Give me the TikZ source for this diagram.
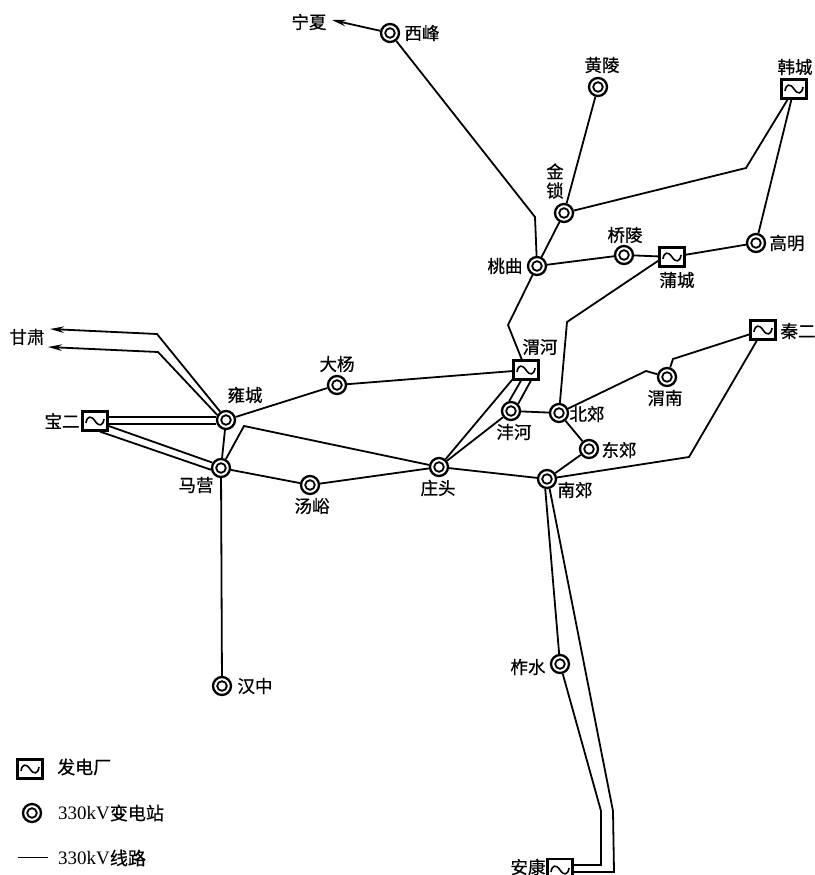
\documentclass[tikz,border=0pt]{standalone}
\usepackage{fontspec}
\setmainfont{Liberation Serif}
\newfontfamily\cjk[FakeBold=0.6]{Noto Sans CJK SC}
\usetikzlibrary{arrows.meta}
\tikzset{
  x=1pt,y=-1pt,
  line/.style={line width=1.8pt,line join=miter},
  sub/.style={circle,draw,line width=2.3pt,minimum size=18pt,inner sep=0pt,fill=white,
    path picture={\draw[line width=1.8pt] (path picture bounding box.center) circle (4.8pt);}},
  plant/.style={rectangle,draw,line width=2.2pt,minimum width=25pt,minimum height=19pt,inner sep=0pt,fill=white,
    path picture={\draw[line width=1.6pt] ([shift={(-9pt,-2pt)}]path picture bounding box.center)
      .. controls +(1pt,7pt) and +(-4pt,6pt) .. (path picture bounding box.center)
      .. controls +(4pt,-6pt) and +(-1pt,-7pt) .. ([shift={(9pt,2pt)}]path picture bounding box.center);}},
  lab/.style={font=\cjk\fontsize{17.5}{18}\selectfont,inner sep=0pt},
  leg/.style={font=\fontsize{19}{19}\selectfont,inner sep=0pt,anchor=west},
  arr/.style={line,-{Stealth[length=14pt,width=6.5pt]}}
}
\begin{document}
\begin{tikzpicture}
\useasboundingbox (0,0) rectangle (814,875);
% stations
\node[sub] (xf) at (390,33) {};
\node[sub] (hl) at (598,87) {};
\node[sub] (js) at (564,213) {};
\node[sub] (tq) at (537,266) {};
\node[sub] (ql) at (624,255) {};
\node[sub] (gm) at (756,243) {};
\node[sub] (wn) at (667,377) {};
\node[sub] (bj) at (559,413) {};
\node[sub] (fh) at (511,411) {};
\node[sub] (dj) at (589,449) {};
\node[sub] (nj) at (547,479) {};
\node[sub] (zt) at (439,467) {};
\node[sub] (dy) at (337,385) {};
\node[sub] (yc) at (226,420) {};
\node[sub] (my) at (221,468) {};
\node[sub] (ty) at (310,485) {};
\node[sub] (hz) at (222,686) {};
\node[sub] (zs) at (560,664) {};
% plants
\node[plant] (hc) at (794,89) {};
\node[plant] (pc) at (672,257) {};
\node[plant] (wh) at (526,370) {};
\node[plant] (qe) at (763,330) {};
\node[plant] (be) at (95,421) {};
\node[plant,minimum height=22pt] (ak) at (560,870) {};
% labels
\node[lab] (lnx) at (309,22) {宁夏};
\node[lab] (lxf) at (422,33) {西峰};
\node[lab] (lhl) at (602,65) {黄陵};
\node[lab] (lhc) at (795,67) {韩城};
\node[lab,align=center] (ljs) at (555,181) {金\\[1pt]锁};
\node[lab] (ltq) at (505,266) {桃曲};
\node[lab] (lql) at (625,235) {桥陵};
\node[lab] (lpc) at (677,280) {蒲城};
\node[lab] (lgm) at (787,243) {高明};
\node[lab] (lwh) at (540,347) {渭河};
\node[lab] (lqe) at (798,331) {秦二};
\node[lab] (lwn) at (665,398) {渭南};
\node[lab] (lbj) at (587,414) {北郊};
\node[lab] (lfh) at (514,432) {沣河};
\node[lab] (ldj) at (619,450) {东郊};
\node[lab] (lnj) at (575,490) {南郊};
\node[lab] (lzt) at (438,488) {庄头};
\node[lab] (ldy) at (337,364) {大杨};
\node[lab] (lyc) at (245,395) {雍城};
\node[lab] (lmy) at (196,485) {马营};
\node[lab] (lty) at (312,506) {汤峪};
\node[lab] (lbe) at (62,421) {宝二};
\node[lab] (lhz) at (255,686) {汉中};
\node[lab] (lzs) at (528,667) {柞水};
\node[lab] (lak) at (528,867) {安康};
\node[lab] (lgs) at (27,337) {甘肃};
% free ends and bends
\coordinate (nxend) at (332,20);
\coordinate (gs1) at (50,329);
\coordinate (gs2) at (48,347);
\coordinate (gs1b) at (157,334);
\coordinate (gs2b) at (158,352);
\coordinate (ztb) at (244,426);
\coordinate (whb) at (508,325);
\coordinate (xfb) at (535,217);
\coordinate (hcb) at (746,168);
\coordinate (pcb) at (567,322);
\coordinate (wnb) at (646,371);
\coordinate (wnc) at (673,359);
\coordinate (qeb) at (689,457);
\coordinate (ak1) at (601,811);
\coordinate (ak2) at (613,811);
\coordinate (ak1b) at (601,865);
\coordinate (ak2b) at (614,872);
\coordinate (nj2) at (599,740);
% connectors
\draw[arr] (yc.125) -- (gs1b) -- (gs1);
\draw[arr] (yc.150) -- (gs2b) -- (gs2);
\draw[arr] (xf) -- (nxend);
\draw[line] (be.east |- 0,417) -- (yc.west |- 0,417);
\draw[line] (be.east |- 0,424) -- (yc.west |- 0,424);
\draw[line] (be.-20) -- (my.148);
\draw[line] (be.-65) -- (my.190);
\draw[line] (yc) -- (my);
\draw[line] (yc) -- (dy);
\draw[line] (dy) -- (wh);
\draw[line] (my) -- (ztb) -- (zt);
\draw[line] (my) -- (ty);
\draw[line] (ty) -- (zt);
\draw[line] (my) -- (hz);
\draw[line] (zt) -- (nj);
\draw[line] (zt) -- (wh.-145);
\draw[line] (zt) -- (fh);
\draw[line] (fh.100) -- (wh.-115);
\draw[line] (fh.45) -- (wh.-65);
\draw[line] (fh) -- (bj);
\draw[line] (bj) -- (dj);
\draw[line] (dj) -- (nj);
\draw[line] (bj) -- (pcb) -- (pc.-165);
\draw[line] (bj) -- (wnb) -- (wn);
\draw[line] (wn) -- (wnc) -- (qe);
\draw[line] (nj) -- (qeb) -- (qe);
\draw[line] (tq) -- (whb) -- (wh);
\draw[line] (tq) -- (xfb) -- (xf);
\draw[line] (tq) -- (js);
\draw[line] (js) -- (hl);
\draw[line] (js) -- (hcb) -- (hc);
\draw[line] (hc) -- (gm);
\draw[line] (tq) -- (ql);
\draw[line] (ql) -- (pc);
\draw[line] (pc) -- (gm);
\draw[line] (nj.-100) -- (zs);
\draw[line] (zs) -- (ak1) -- (ak1b) -- (ak.east |- ak1b);
\draw[line] (nj.-75) -- (nj2) -- (ak2) -- (ak2b) -- (ak.east |- ak2b);
% legend
\node[plant] (lp) at (30,769) {};
\node[sub] (ls) at (32,813) {};
\coordinate (lla) at (18,857.5);
\coordinate (llb) at (48,857.5);
\draw[line] (lla) -- (llb);
\node[leg] (t1) at (57,767) {\cjk\fontsize{18}{18}\selectfont 发电厂};
\node[leg] (t2) at (58,813) {330kV\cjk\fontsize{18}{18}\selectfont 变电站};
\node[leg] (t3) at (58,858) {330kV\cjk\fontsize{18}{18}\selectfont 线路};
\end{tikzpicture}
\end{document}
